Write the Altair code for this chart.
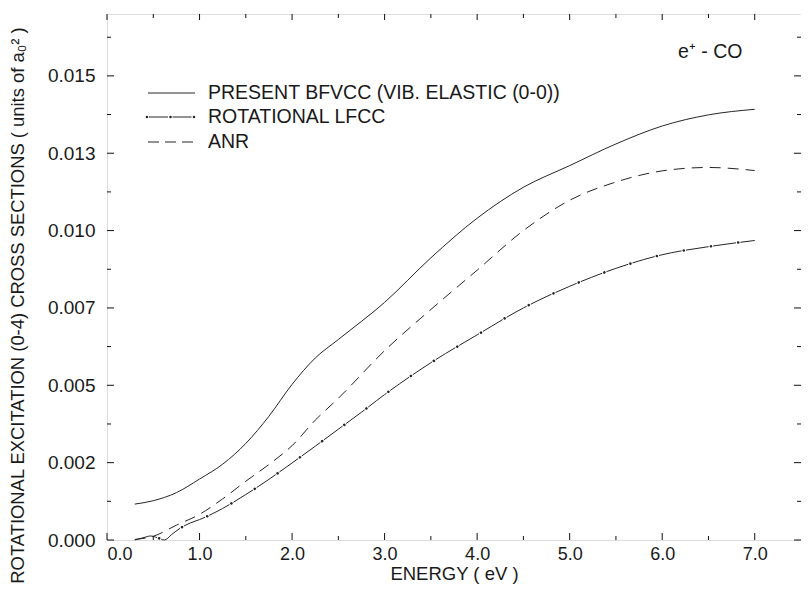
import altair as alt
import pandas as pd

# ---------------- data ----------------
bfvcc_x = [0.3, 0.5, 0.75, 1.0, 1.25, 1.5, 1.75, 2.0, 2.25, 2.5, 3.0, 3.5, 4.0, 4.5, 5.0, 5.5, 6.0, 6.5, 7.0]
bfvcc_y = [0.00116, 0.00127, 0.00153, 0.00197, 0.00245, 0.00312, 0.00400, 0.00503, 0.00588, 0.00648,
           0.00768, 0.00912, 0.01040, 0.01140, 0.01210, 0.01280, 0.01338, 0.01374, 0.01392]

anr_x = [0.3, 0.5, 0.75, 1.0, 1.25, 1.5, 1.75, 2.0, 2.25, 2.5, 3.0, 3.5, 4.0, 4.5, 5.0, 5.5, 6.0, 6.5, 7.0]
anr_y = [0.00002, 0.00012, 0.00048, 0.00083, 0.00133, 0.00190, 0.00244, 0.00305, 0.00387, 0.00458,
         0.00612, 0.00745, 0.00872, 0.01000, 0.01098, 0.01157, 0.01193, 0.01204, 0.01194]

lfcc_x = [0.3, 0.4, 0.47, 0.55, 0.62, 0.7, 0.8, 0.9, 1.0, 1.25, 1.5, 1.75, 2.0, 2.25, 2.5, 2.75,
          3.0, 3.5, 4.0, 4.5, 5.0, 5.5, 6.0, 6.5, 7.0]
lfcc_y = [0.0, 0.00008, 0.00013, 0.00007, 0.0, 0.00018, 0.00040, 0.00055, 0.00066, 0.00102, 0.00147,
          0.00196, 0.00249, 0.00303, 0.00358, 0.00413, 0.00470, 0.00573, 0.00663, 0.00750, 0.00820,
          0.00878, 0.00922, 0.00948, 0.00968]

legend_labels = ["PRESENT BFVCC (VIB. ELASTIC (0-0))", "ROTATIONAL LFCC", "ANR"]
annotation = "e\u207a - CO"

x_major = [0.0, 1.0, 2.0, 3.0, 4.0, 5.0, 6.0, 7.0]
x_minor = [0.5, 1.5, 2.5, 3.5, 4.5, 5.5, 6.5]
y_major = [0.0, 0.0025, 0.005, 0.0075, 0.01, 0.0125, 0.015]
y_major_labels = ["0.000", "0.002", "0.005", "0.007", "0.010", "0.013", "0.015"]
y_minor = [0.00125, 0.00375, 0.00625, 0.00875, 0.01125, 0.01375, 0.01625]

x_title = "ENERGY ( eV )"
y_title = "ROTATIONAL EXCITATION (0-4) CROSS SECTIONS ( units of a\u2080\u00b2 )"

# ---------------- layout ----------------
W, H = 694, 526
FONT = "Liberation Sans"
INK = "#1a1a1a"
LINE = "#262626"

xscale = alt.Scale(domain=[0, 7.5], nice=False, zero=False)
yscale = alt.Scale(domain=[0, 0.017], nice=False, zero=False)

label_expr = "[" + ",".join(f"'{s}'" for s in y_major_labels) + "][round(datum.value/0.0025)]"

xaxis = alt.Axis(values=x_major, format=".1f", ticks=False, domain=False, grid=False,
                 labelFontSize=18, labelFont=FONT, labelColor=INK, labelPadding=5,
                 title=x_title, titleFontSize=18.5, titleFont=FONT, titleFontWeight="normal",
                 titleColor=INK, titleBaseline="bottom", titleY=43)
yaxis = alt.Axis(values=y_major, labelExpr=label_expr, ticks=False, domain=False, grid=False,
                 labelFontSize=19, labelFont=FONT, labelColor=INK, labelPadding=12,
                 title=y_title, titleFontSize=18.4, titleFont=FONT, titleFontWeight="normal",
                 titleColor=INK, titleAngle=270, titleAlign="center", titleBaseline="alphabetic",
                 titleX=-84, titleY=291)

X = alt.X("x:Q", scale=xscale, axis=xaxis)
Y = alt.Y("y:Q", scale=yscale, axis=yaxis)

df_b = pd.DataFrame({"x": bfvcc_x, "y": bfvcc_y})
df_a = pd.DataFrame({"x": anr_x, "y": anr_y})
df_l = pd.DataFrame({"x": lfcc_x, "y": lfcc_y})
one = pd.DataFrame({"k": [0]})

solid = alt.Chart(df_b).mark_line(color=LINE, strokeWidth=1, interpolate="monotone").encode(x=X, y=Y)
dashed = alt.Chart(df_a).mark_line(color=LINE, strokeWidth=1, strokeDash=[11, 7],
                                   interpolate="monotone").encode(x=X, y=Y)
dashdot = alt.Chart(df_l).mark_line(color=LINE, strokeWidth=1, strokeDash=[23, 4.5],
                                    interpolate="monotone").encode(x=X, y=Y)
dots = alt.Chart(df_l).mark_line(color=LINE, strokeWidth=2.6, strokeDash=[0.01, 27.49],
                                 strokeDashOffset=2.25, strokeCap="round",
                                 interpolate="monotone").encode(x=X, y=Y)

# inward ticks
dxM = pd.DataFrame({"x": x_major})
dxm = pd.DataFrame({"x": x_minor})
dyM = pd.DataFrame({"y": y_major})
dym = pd.DataFrame({"y": y_minor})
tick_style = dict(color="#111", strokeWidth=1)
ticks = [
    alt.Chart(dxM).mark_rule(**tick_style).encode(x=X, y=alt.value(H), y2=alt.value(H - 7)),
    alt.Chart(dxm).mark_rule(**tick_style).encode(x=X, y=alt.value(H), y2=alt.value(H - 4)),
    alt.Chart(dxM).mark_rule(**tick_style).encode(x=X, y=alt.value(0), y2=alt.value(6)),
    alt.Chart(dxm).mark_rule(**tick_style).encode(x=X, y=alt.value(0), y2=alt.value(4)),
    alt.Chart(dyM).mark_rule(**tick_style).encode(y=Y, x=alt.value(0), x2=alt.value(7)),
    alt.Chart(dym).mark_rule(**tick_style).encode(y=Y, x=alt.value(0), x2=alt.value(4)),
    alt.Chart(dyM).mark_rule(**tick_style).encode(y=Y, x=alt.value(W), x2=alt.value(W - 7)),
    alt.Chart(dym).mark_rule(**tick_style).encode(y=Y, x=alt.value(W), x2=alt.value(W - 4)),
]

# legend (one row of data each, so each item is drawn once)
LX0, LX1, TX = 41, 88, 101
ROWS = [79, 103, 128]
leg = [
    alt.Chart(one).mark_rule(color=LINE, strokeWidth=1).encode(
        x=alt.value(LX0), x2=alt.value(LX1), y=alt.value(ROWS[0])),
    alt.Chart(one).mark_rule(color=LINE, strokeWidth=1, strokeDash=[19, 4.5]).encode(
        x=alt.value(LX0 + 1), x2=alt.value(LX1), y=alt.value(ROWS[1])),
    alt.Chart(one).mark_rule(color=LINE, strokeWidth=2.6, strokeDash=[0.01, 23.49], strokeCap="round").encode(
        x=alt.value(LX0 - 1), x2=alt.value(LX1 + 2), y=alt.value(ROWS[1])),
    alt.Chart(one).mark_rule(color=LINE, strokeWidth=1, strokeDash=[11, 6]).encode(
        x=alt.value(LX0), x2=alt.value(LX1), y=alt.value(ROWS[2])),
]
for lab, ry in zip(legend_labels, ROWS):
    leg.append(alt.Chart(one).mark_text(text=lab, align="left", baseline="middle", fontSize=19.5,
                                        font=FONT, color=INK).encode(x=alt.value(TX), y=alt.value(ry)))
note = alt.Chart(one).mark_text(text=annotation, align="left", baseline="middle", fontSize=19.5,
                                font=FONT, color=INK).encode(x=alt.value(571), y=alt.value(38))

chart = alt.layer(solid, dashed, dashdot, dots, *ticks, *leg, note).properties(
    width=W, height=H,
    autosize=alt.AutoSizeParams(type="none"),
    padding={"left": 99, "top": 6, "right": 0, "bottom": 44},
).configure_view(stroke="#111", strokeWidth=1).configure(background="white")

chart.save("out.html", embed_options={"renderer": "svg", "actions": False})
